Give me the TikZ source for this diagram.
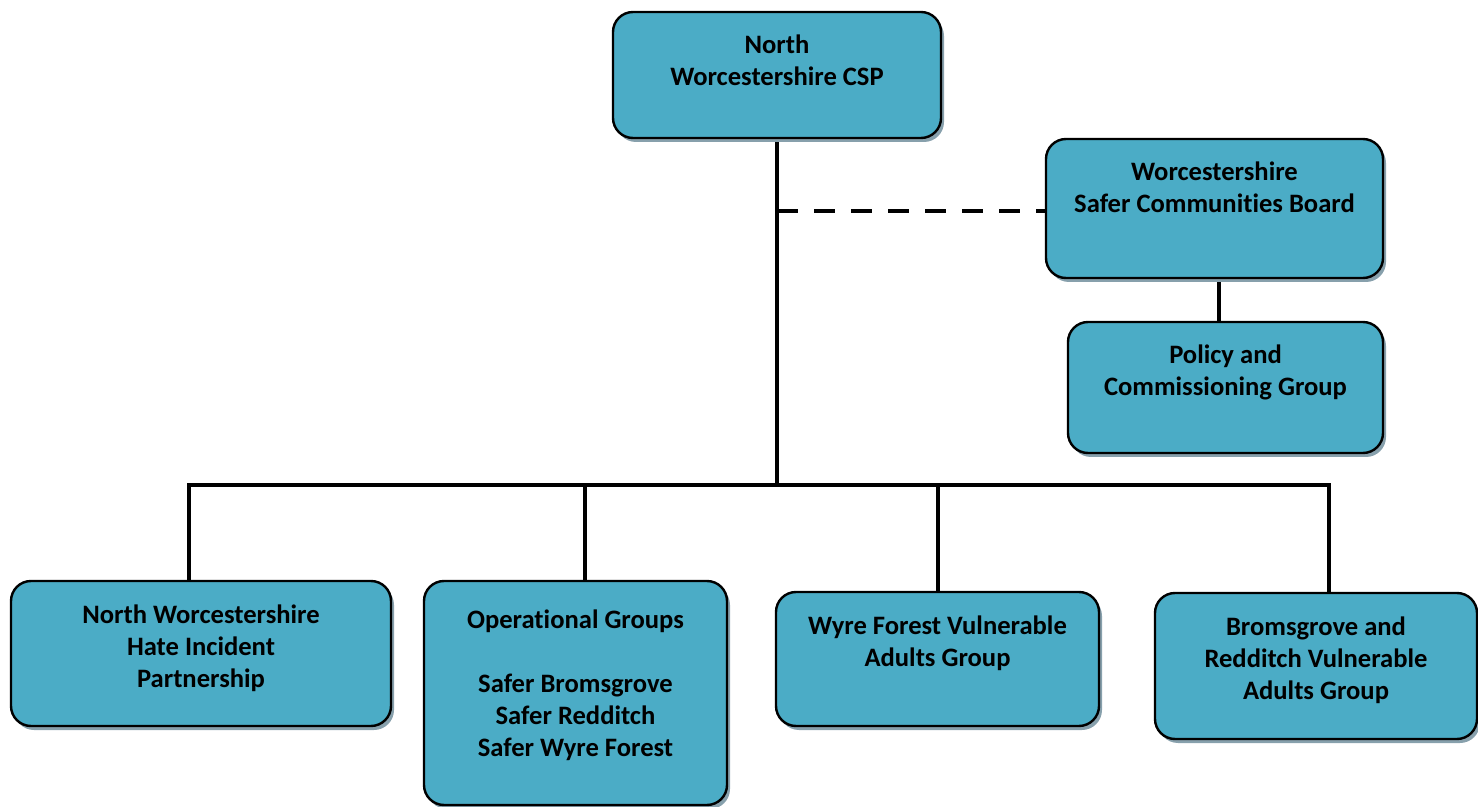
\documentclass[tikz,border=0pt]{standalone}
\usepackage{fontspec}
\setmainfont{Carlito}[Ligatures=NoCommon]
\usepackage{tikz}
\usetikzlibrary{
  positioning,
  shadows,
  backgrounds
}
\definecolor{BoxFill}{RGB}{75,172,198}
\definecolor{BoxBorder}{RGB}{0,0,0}
\definecolor{ShadowGrey}{RGB}{135,160,172}
\definecolor{LinkColor}{RGB}{0,0,0}
% text block inside a card: [top], width, height, lines
\newcommand{\cardtext}[4][21pt]{\parbox[c][#3][t]{#2}{\centering\rule{0pt}{#1}#4}}
\tikzset{
  % Card of the chart
  card/.style={
    rectangle,
    rounded corners=10pt,
    draw=BoxBorder,
    line width=1.2pt,
    fill=BoxFill,
    inner sep=0pt,
    font=\fontsize{13.3}{16}\selectfont\bfseries,
    drop shadow={shadow xshift=1.5pt, shadow yshift=-2pt, fill=ShadowGrey, opacity=1}
  },
  % Solid connector
  link/.style={
    draw=LinkColor,
    line width=2pt
  },
  % Dashed connector
  dlink/.style={
    draw=LinkColor,
    line width=2pt,
    dash pattern=on 10.5pt off 8pt
  }
}

\begin{document}
\begin{tikzpicture}[x=0.5pt, y=-0.5pt]
  \useasboundingbox (0,0) rectangle (1478,807);

  % The cards
  \node[card] (csp)  at (777,75)      {\cardtext{164pt}{63pt}{North\\Worcestershire CSP}};
  \node[card] (wscb) at (1214.5,208.5) {\cardtext{168.5pt}{69.5pt}{Worcestershire\\Safer Communities Board}};
  \node[card] (pcg)  at (1225.5,387.5) {\cardtext{157.5pt}{65.5pt}{Policy and\\Commissioning Group}};
  \node[card] (hate) at (201,653.5)   {\cardtext{190pt}{72.5pt}{North Worcestershire\\Hate Incident\\Partnership}};
  \node[card] (ops)  at (575.5,693)   {\cardtext[23.5pt]{151.5pt}{112pt}{Operational Groups\\[16pt]Safer Bromsgrove\\Safer Redditch\\Safer Wyre Forest}};
  \node[card] (wyre) at (937.5,659)   {\cardtext{161.5pt}{67pt}{Wyre Forest Vulnerable\\Adults Group}};
  \node[card] (brom) at (1316,666)    {\cardtext{161pt}{73pt}{Bromsgrove and\\Redditch Vulnerable\\Adults Group}};

  % Bus points
  \coordinate (busL) at (189,485);
  \coordinate (busR) at (1329,485);
  \coordinate (jOps) at (585,485);

  % The connectors
  \begin{scope}[on background layer]
    \draw[link] (csp.south) -- (csp.south |- busL);
    \draw[link] (hate.north -| busL) -- (busL) -- (busR) -- (brom.north -| busR);
    \draw[link] (jOps) -- (jOps |- ops.north);
    \draw[link] (wyre.north |- busL) -- (wyre.north);
    \draw[dlink] (csp.south |- 0,211) -- (wscb.west |- 0,211);
    \draw[link] ([xshift=2pt]wscb.south) -- ([xshift=2pt]wscb.south |- pcg.north);
  \end{scope}
\end{tikzpicture}
\end{document}
